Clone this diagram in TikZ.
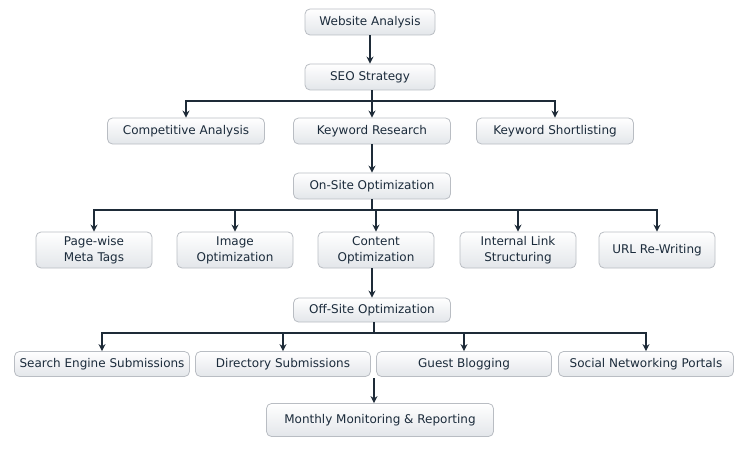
\documentclass[tikz,border=0pt]{standalone}
\usepackage{fontspec}
\setmainfont{DejaVu Sans}
\usetikzlibrary{arrows.meta, positioning}
\definecolor{ink}{HTML}{1B2B3B}
\definecolor{wire}{HTML}{1E2B38}
\definecolor{rim}{HTML}{B9BDC3}
\definecolor{shade}{HTML}{E3E6EA}
\tikzset{
  font=\fontsize{12}{16}\selectfont,
  >={Stealth[length=7pt, width=7pt]},
  %
  step box/.style={
    draw=rim, line width=0.8pt, top color=white, bottom color=shade,
    rounded corners=5pt, align=center, text=ink, inner sep=2pt,
  },
  wide/.style={step box, minimum width=130pt, minimum height=26pt},
  mid/.style={step box, minimum width=157pt, minimum height=26pt},
  tall/.style={step box, minimum width=116pt, minimum height=36pt},
  flat/.style={step box, minimum width=175pt, minimum height=25pt},
  %
  wirestyle/.style={draw=wire, line width=2.3pt},
  flow/.style={wirestyle, ->},
}

\begin{document}
\begin{tikzpicture}[x=1pt, y=-1pt]
\useasboundingbox (0,0) rectangle (750,460);

% ------------------------------------------------------------- top
\node[wide] (wa)  at (370,22) {Website Analysis};
\node[wide] (seo) at (370,77) {SEO Strategy};
\draw[flow] (wa) -- (seo);

% ------------------------------------------------------------- research
\node[mid] (ca) at (186,131) {Competitive Analysis};
\node[mid] (kr) at (372,131) {Keyword Research};
\node[mid] (ks) at (555,131) {Keyword Shortlisting};

\coordinate (b1) at (372,101);
\draw[wirestyle] (seo.south -| b1) -- (b1);
\foreach \n in {ca,kr,ks} { \draw[flow] (b1) -| (\n.north); }

% ------------------------------------------------------------- on-site
\node[mid] (on) at (372,186) {On-Site Optimization};
\draw[flow] (kr) -- (on);

\node[tall] (pm) at (94,250)  {Page-wise\\Meta Tags};
\node[tall] (io) at (235,250) {Image\\Optimization};
\node[tall] (co) at (376,250) {Content\\Optimization};
\node[tall] (il) at (518,250) {Internal Link\\Structuring};
\node[tall] (ur) at (657,250) {URL Re-Writing};

\coordinate (b2) at (372,210);
\draw[wirestyle] (on) -- (b2);
\foreach \n in {pm,io,co,il,ur} { \draw[flow] (b2) -| (\n.north); }

% ------------------------------------------------------------- off-site
\node[mid, minimum height=24pt] (off) at (372,310) {Off-Site Optimization};
\draw[flow] (co.south -| off) -- (off);

\node[flat] (se) at (102,364) {Search Engine Submissions};
\node[flat] (ds) at (283,364) {Directory Submissions};
\node[flat] (gb) at (464,364) {Guest Blogging};
\node[flat] (sn) at (646,364) {Social Networking Portals};

\coordinate (b3) at (374,333);
\draw[wirestyle] (off.south -| b3) -- (b3);
\foreach \n in {se,ds,gb,sn} { \draw[flow] (b3) -| (\n.north); }

% ------------------------------------------------------------- report
\node[step box, minimum width=227pt, minimum height=33pt] (mm) at (380,420)
  {Monthly Monitoring \& Reporting};
\coordinate (gap) at (374,378);
\draw[flow] (gap) -- (gap |- mm.north);

\end{tikzpicture}
\end{document}
